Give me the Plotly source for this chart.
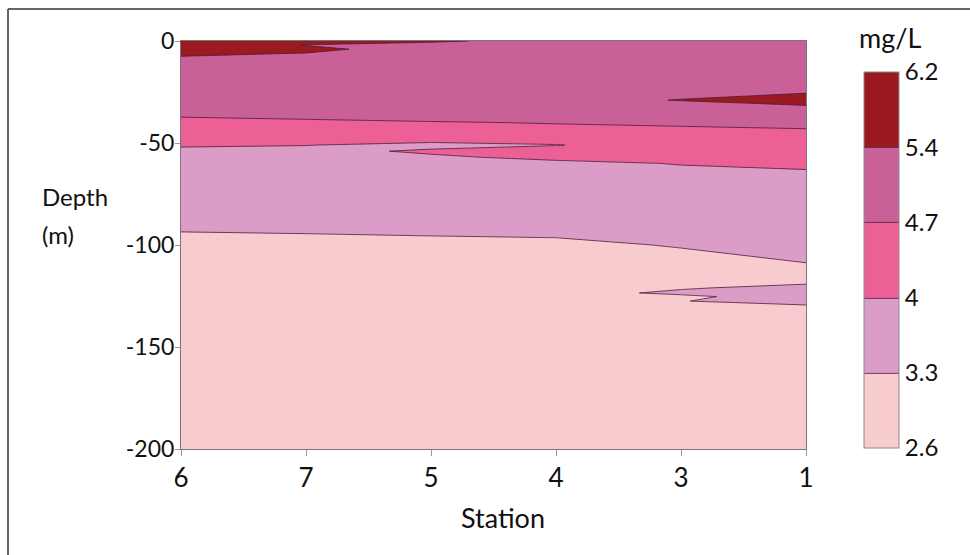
import numpy as np
import plotly.graph_objects as go

# Stations in plotting order (left to right)
stations = ["6", "7", "5", "4", "3", "1"]

# Depths (m) of the gridded profile rows
depths = [0, 2, 4, 8, 23, 29, 34, 40, 46, 49, 51, 54, 57, 60, 65, 75, 90, 100,
          110, 118, 121, 123.5, 125.3, 127.5, 130, 140, 170, 200]

# Concentration (mg/L), one row per depth, columns follow `stations`
conc = [
    [6.00, 5.70, 5.45, 5.30, 5.20, 5.15],
    [5.90, 5.38, 5.30, 5.20, 5.15, 5.10],
    [5.80, 5.55, 5.15, 5.10, 5.10, 5.05],
    [5.35, 5.25, 5.10, 5.05, 5.05, 5.00],
    [5.10, 5.10, 5.10, 5.15, 5.20, 5.20],
    [5.05, 5.05, 5.10, 5.25, 5.42, 5.70],
    [4.95, 5.00, 5.00, 5.05, 5.10, 5.15],
    [4.50, 4.59, 4.67, 4.72, 4.80, 4.85],
    [4.30, 4.30, 4.35, 4.52, 4.47, 4.55],
    [4.15, 4.15, 4.12, 4.20, 4.40, 4.45],
    [4.05, 4.02, 3.80, 3.97, 4.40, 4.40],
    [3.90, 3.80, 4.10, 4.30, 4.35, 4.35],
    [3.85, 3.80, 3.90, 4.15, 4.25, 4.30],
    [3.80, 3.78, 3.75, 3.85, 4.03, 4.15],
    [3.70, 3.70, 3.70, 3.75, 3.85, 3.90],
    [3.60, 3.60, 3.60, 3.62, 3.65, 3.75],
    [3.40, 3.42, 3.45, 3.48, 3.55, 3.70],
    [3.12, 3.15, 3.18, 3.20, 3.33, 3.50],
    [3.00, 3.00, 3.00, 3.05, 3.13, 3.27],
    [2.95, 2.95, 2.95, 3.00, 3.10, 3.20],
    [2.93, 2.93, 2.93, 2.95, 3.25, 3.45],
    [2.92, 2.92, 2.92, 3.10, 3.40, 3.50],
    [2.90, 2.90, 2.90, 3.00, 3.20, 3.55],
    [2.90, 2.90, 2.90, 2.95, 3.28, 3.55],
    [2.88, 2.88, 2.88, 2.90, 3.10, 3.22],
    [2.85, 2.85, 2.85, 2.85, 2.90, 2.95],
    [2.75, 2.75, 2.75, 2.75, 2.78, 2.80],
    [2.70, 2.70, 2.70, 2.70, 2.70, 2.70],
]

# Contour class limits (mg/L) and band colours
levels = [2.6, 3.3, 4.0, 4.7, 5.4, 6.2]
level_labels = ["2.6", "3.3", "4", "4.7", "5.4", "6.2"]
band_colors = ["#F8CCCE", "#DB9DC8", "#EC6096", "#C96198", "#9B1A20"]

depth_ticks = [0, -50, -100, -150, -200]
depth_tick_text = ["0", "-50", "-100", "-150", "-200"]

# ---- build figure ----
idx = list(range(len(levels)))
z_idx = np.interp(np.array(conc), levels, idx)  # equal-width classes
y = [-d for d in depths]
x = list(range(len(stations)))

n = len(band_colors)
cscale = []
for i, c in enumerate(band_colors):
    cscale.append([i / n, c])
    cscale.append([(i + 1) / n, c])

W, H = 970, 555
L, R, T, B = 181, 164, 41, 106
pw, ph = W - L - R, H - T - B

def px(xp):
    return (xp - L) / pw

def py(yp):
    return (H - B - yp) / ph

fig = go.Figure()
fig.add_trace(go.Contour(
    x=x, y=y, z=z_idx,
    zmin=0, zmax=len(levels) - 1, zauto=False,
    colorscale=cscale,
    contours=dict(start=1, end=len(levels) - 2, size=1, coloring="fill", showlines=True),
    line=dict(color="#4a1d36", width=0.8, smoothing=0),
    colorbar=dict(
        tickvals=idx, ticktext=level_labels,
        thicknessmode="pixels", thickness=35,
        lenmode="pixels", len=376,
        x=px(864), xanchor="left", xpad=0,
        y=py(448), yanchor="bottom", ypad=0,
        outlinewidth=1, outlinecolor="#8a8a8a",
        ticks="", tickfont=dict(family="Lato", size=24, color="#111"),
    ),
    hoverinfo="skip",
))

fig.update_layout(
    width=W, height=H,
    margin=dict(l=L, r=R, t=T, b=B),
    paper_bgcolor="white", plot_bgcolor="white",
    font=dict(family="Lato", color="#111"),
    showlegend=False,
)
fig.update_xaxes(
    range=[0, len(stations) - 1], tickvals=x, ticktext=stations,
    tickfont=dict(size=26), ticks="outside", ticklen=6, tickcolor="#999",
    showline=True, linecolor="#777", linewidth=1, mirror=True,
    showgrid=False, zeroline=False,
)
fig.update_yaxes(
    range=[-200, 0], tickvals=depth_ticks, ticktext=depth_tick_text,
    tickfont=dict(size=23), ticks="outside", ticklen=5, tickcolor="#999",
    ticklabelstandoff=-4,
    showline=True, linecolor="#777", linewidth=1, mirror=True,
    showgrid=False, zeroline=False,
)

fig.add_annotation(text="Station", xref="paper", yref="paper", x=px(503), y=py(517),
                   xanchor="center", yanchor="middle", showarrow=False,
                   font=dict(size=27, family="Lato", color="#111"))
fig.add_annotation(text="Depth", xref="paper", yref="paper", x=px(40), y=py(196),
                   xanchor="left", yanchor="middle", showarrow=False,
                   font=dict(size=24, family="Lato", color="#111"))
fig.add_annotation(text="(m)", xref="paper", yref="paper", x=px(40), y=py(234),
                   xanchor="left", yanchor="middle", showarrow=False,
                   font=dict(size=24, family="Lato", color="#111"))
fig.add_annotation(text="mg/L", xref="paper", yref="paper", x=px(890), y=py(37),
                   xanchor="center", yanchor="middle", showarrow=False,
                   font=dict(size=27, family="Lato", color="#111"))

# figure frame (left and top edges visible in the reference)
fig.add_shape(type="line", xref="paper", yref="paper", x0=px(8), x1=px(8), y0=py(555), y1=py(9),
              line=dict(color="#333", width=1.5))
fig.add_shape(type="line", xref="paper", yref="paper", x0=px(8), x1=px(970), y0=py(9), y1=py(9),
              line=dict(color="#333", width=1.5))

fig.write_html("out.html")
